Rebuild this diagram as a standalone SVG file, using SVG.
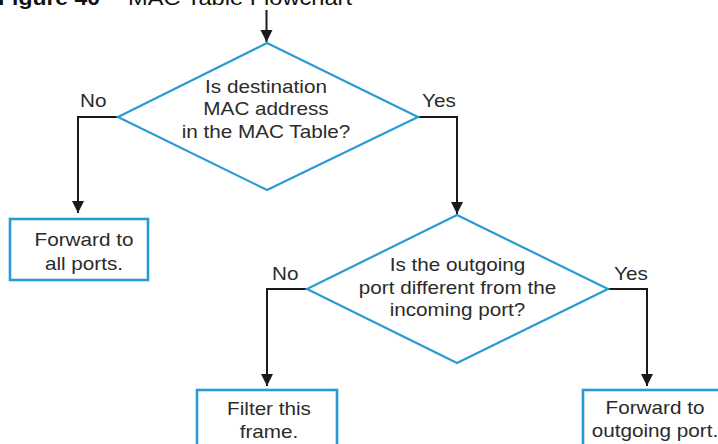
<svg xmlns="http://www.w3.org/2000/svg" width="718" height="444" viewBox="0 0 718 444">
<style>
.dia{fill:#fff;stroke:#2a9ad4;stroke-width:2.2;stroke-linejoin:miter}
.box{fill:#fff;stroke:#2a9ad4;stroke-width:2.6}
.con{fill:none;stroke:#1a1a1a;stroke-width:2}
text{font-family:"Liberation Sans",Arial,sans-serif;font-size:18px;fill:#2b2b2b}
.ctr{text-anchor:middle}
.title{font-size:21px;fill:#111}
</style>
<defs>
<marker id="arrd" markerUnits="userSpaceOnUse" markerWidth="12" markerHeight="13" refX="12" refY="6" orient="auto" viewBox="0 0 12 12">
<path d="M0,0 L12,6 L0,12 Z" fill="#1a1a1a"/>
</marker>
</defs>
<rect width="718" height="444" fill="#fff"/>
<g id="title">
<text class="title" x="-2" y="5" font-weight="bold" textLength="102" lengthAdjust="spacingAndGlyphs">Figure 40</text>
<text class="title" x="128" y="5" textLength="224" lengthAdjust="spacingAndGlyphs">MAC Table Flowchart</text>
</g>
<g id="connectors">
<path class="con" d="M266.5,10 V42" marker-end="url(#arrd)"/>
<path class="con" d="M118,117 H78 V213" marker-end="url(#arrd)"/>
<path class="con" d="M418,117 H457 V214" marker-end="url(#arrd)"/>
<path class="con" d="M307,289 H267 V386" marker-end="url(#arrd)"/>
<path class="con" d="M608,289 H647 V386" marker-end="url(#arrd)"/>
</g>
<g id="labels">
<text transform="translate(80,107) scale(1.15,1)">No</text>
<text transform="translate(422,107) scale(1.15,1)">Yes</text>
<text transform="translate(272,280) scale(1.15,1)">No</text>
<text transform="translate(614,280) scale(1.15,1)">Yes</text>
</g>
<g id="decision1">
<polygon class="dia" points="267,43 418,117 267,190 118,117"/>
<text class="ctr" transform="translate(266,0) scale(1.15,1)"><tspan x="0" y="93">Is destination</tspan><tspan x="0" y="115.5">MAC address</tspan><tspan x="0" y="138">in the MAC Table?</tspan></text>
</g>
<g id="forwardAll">
<rect class="box" x="10" y="219" width="138" height="61"/>
<text class="ctr" transform="translate(84,0) scale(1.15,1)"><tspan x="0" y="246.5">Forward to</tspan><tspan x="0" y="270">all ports.</tspan></text>
</g>
<g id="decision2">
<polygon class="dia" points="457,215 608,289 457,363 307,289"/>
<text class="ctr" transform="translate(457.5,0) scale(1.15,1)"><tspan x="0" y="271.5">Is the outgoing</tspan><tspan x="0" y="294">port different from the</tspan><tspan x="0" y="316.5">incoming port?</tspan></text>
</g>
<g id="filter">
<rect class="box" x="197" y="390" width="140" height="62"/>
<text class="ctr" transform="translate(269,0) scale(1.15,1)"><tspan x="0" y="415">Filter this</tspan><tspan x="0" y="438">frame.</tspan></text>
</g>
<g id="forwardOut">
<rect class="box" x="583" y="390" width="140" height="62"/>
<text class="ctr" transform="translate(655,0) scale(1.15,1)"><tspan x="0" y="414.5">Forward to</tspan><tspan x="0" y="437.5">outgoing port.</tspan></text>
</g>
</svg>
